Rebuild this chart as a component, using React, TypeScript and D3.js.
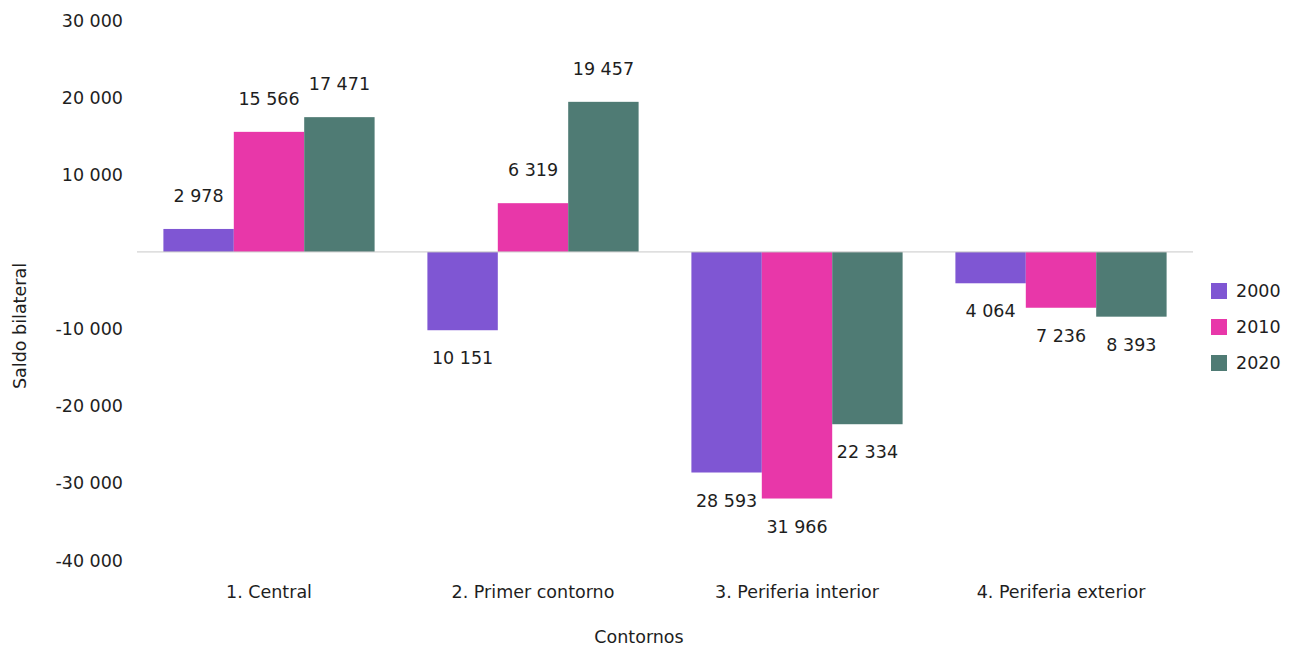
import React from "react";
import * as d3 from "d3";

const categories = ["1. Central", "2. Primer contorno", "3. Periferia interior", "4. Periferia exterior"];
const seriesNames = ["2000", "2010", "2020"];
const values2000 = [2978, -10151, -28593, -4064];
const values2010 = [15566, 6319, -31966, -7236];
const values2020 = [17471, 19457, -22334, -8393];
const yTicks = [30000, 20000, 10000, 0, -10000, -20000, -30000, -40000];
const colors = ["#7f56d3", "#e837a9", "#4f7b74"];

const W = 1292;
const H = 648;
const FONT = "'DejaVu Sans', sans-serif";
const FS = 17.5;

export default function App() {
  const series = [values2000, values2010, values2020];
  const y = d3.scaleLinear().domain([-40000, 30000]).range([560.5, 20.5]);
  const x0 = d3.scaleBand<string>().domain(categories).range([137, 1193]).paddingInner(0.2).paddingOuter(0.1);
  const x1 = d3.scaleBand<string>().domain(seriesNames).range([0, x0.bandwidth()]);
  const fmt = (v: number) => d3.format(",")(Math.abs(v)).replace(/,/g, " ");
  const tickFmt = (v: number) => (v === 0 ? "" : (v < 0 ? "-" : "") + fmt(v));
  const textColor = "#1e1e1e";

  return (
    <svg width={W} height={H} style={{ position: "absolute", left: 0, top: 0 }} fontFamily={FONT}>
      {yTicks.map((t) => (
        <text key={t} x={123} y={y(t)} textAnchor="end" dominantBaseline="central" fontSize={FS} fill={textColor}>
          {tickFmt(t)}
        </text>
      ))}
      {categories.map((c, i) => (
        <g key={c}>
          {seriesNames.map((s, j) => {
            const v = series[j][i];
            const bx = (x0(c) as number) + (x1(s) as number);
            const bw = x1.bandwidth();
            const top = Math.min(y(v), y(0));
            const h = Math.abs(y(v) - y(0));
            const ly = v >= 0 ? y(v) - 33 : y(v) + 28;
            return (
              <g key={s}>
                <rect x={bx} y={top} width={bw} height={h} fill={colors[j]} />
                <text x={bx + bw / 2} y={ly} textAnchor="middle" dominantBaseline="central" fontSize={FS} fill={textColor}>
                  {fmt(v)}
                </text>
              </g>
            );
          })}
          <text x={(x0(c) as number) + x0.bandwidth() / 2} y={592} textAnchor="middle" dominantBaseline="central" fontSize={FS} fill={textColor}>
            {c}
          </text>
        </g>
      ))}
      <line x1={137} x2={1193} y1={y(0)} y2={y(0)} stroke="#c8c8c8" strokeWidth={1} />
      <text x={639} y={637} textAnchor="middle" dominantBaseline="central" fontSize={FS} fill={textColor}>
        Contornos
      </text>
      <text transform={`translate(20,326) rotate(-90)`} textAnchor="middle" dominantBaseline="central" fontSize={FS} fill={textColor}>
        Saldo bilateral
      </text>
      {seriesNames.map((s, j) => (
        <g key={s} transform={`translate(1211,${291 + j * 36})`}>
          <rect x={0} y={-8} width={16} height={16} fill={colors[j]} />
          <text x={25} y={0} dominantBaseline="central" fontSize={FS} fill={textColor}>
            {s}
          </text>
        </g>
      ))}
    </svg>
  );
}
